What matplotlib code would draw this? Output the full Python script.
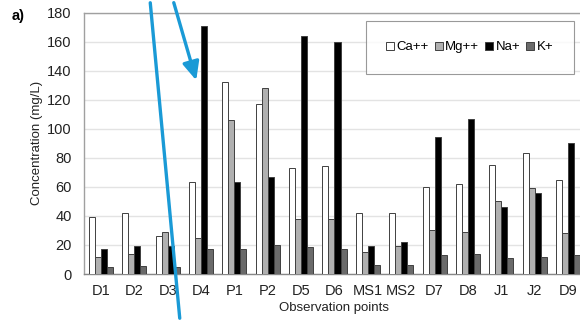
import matplotlib
matplotlib.use("Agg")
import matplotlib.pyplot as plt
import numpy as np
from matplotlib.patches import FancyArrowPatch

plt.rcParams["font.family"] = ["Liberation Sans", "DejaVu Sans"]

points = ["D1", "D2", "D3", "D4", "P1", "P2", "D5", "D6", "MS1", "MS2",
          "D7", "D8", "J1", "J2", "D9"]
ca = [39, 42, 26, 63, 132, 117, 73, 74, 42, 42, 60, 62, 75, 83, 65]
mg = [12, 14, 29, 25, 106, 128, 38, 38, 15, 19, 30, 29, 50, 59, 28]
na = [17, 19, 19, 171, 63, 67, 164, 160, 19, 22, 94, 107, 46, 56, 90]
k = [5, 5.5, 5, 17, 17.5, 20, 18.5, 17, 6, 6, 13, 14, 11, 12, 13]

series = [("Ca++", ca, "#ffffff"), ("Mg++", mg, "#b0b0b0"),
          ("Na+", na, "#000000"), ("K+", k, "#6a6a6a")]

W, H = 580, 321
fig = plt.figure(figsize=(W / 100, H / 100), dpi=100)
# the panel runs a little past the right edge of the figure
ax = fig.add_axes([84.3 / W, 1 - 274 / H, 500.4 / W, 261.5 / H])

x = np.arange(len(points))
width = 0.18
for i, (name, vals, color) in enumerate(series):
    ax.bar(x + (i - 1.5) * width, vals, width, color=color,
           edgecolor="#404040", linewidth=0.7, label=name, zorder=3)

ax.set_xlim(-0.5, len(points) - 0.5)
ax.set_ylim(0, 180)
ax.set_yticks(np.arange(0, 181, 20))
ax.set_xticks(x)
ax.set_xticklabels(points)
ax.tick_params(axis="both", length=0, labelsize=10.5, colors="#222222")
ax.tick_params(axis="x", pad=7)
ax.tick_params(axis="y", pad=9)
ax.grid(axis="y", color="#e3e3e3", linewidth=1, zorder=0)
for s in ax.spines.values():
    s.set_color("#a0a0a0")
    s.set_linewidth(1)
ax.spines["bottom"].set_color("#888888")

ax.set_ylabel("Concentration (mg/L)", fontsize=9.5, color="#222222", labelpad=3)
ax.set_xlabel("Observation points", fontsize=9.5, color="#222222", labelpad=3)

leg = ax.legend(ncol=4, loc="upper right", bbox_to_anchor=(574 / W, 1 - 21 / H),
                bbox_transform=fig.transFigure, borderaxespad=0,
                fontsize=9.5, frameon=True, fancybox=False, edgecolor="#808080",
                handlelength=0.6, handleheight=0.6, handletextpad=0.2,
                columnspacing=0.45, borderpad=1.55)
leg.get_frame().set_linewidth(0.8)

fig.text(12 / W, 1 - 16 / H, "a)", fontsize=10.5, fontweight="bold",
         va="center", ha="left")

# blue annotation marks over the panel
def fig_px(px, py):
    return (px / W, 1 - py / H)

line = FancyArrowPatch(fig_px(150, 0), fig_px(180, 321), transform=fig.transFigure,
                       arrowstyle="-", color="#1a9ad6", linewidth=2.4)
arrow = FancyArrowPatch(fig_px(173, 0), fig_px(197, 83), transform=fig.transFigure,
                        arrowstyle="-|>,head_length=11,head_width=5",
                        color="#1a9ad6", linewidth=2.4, mutation_scale=1)
fig.add_artist(line)
fig.add_artist(arrow)

fig.savefig("out.png", dpi=100)
